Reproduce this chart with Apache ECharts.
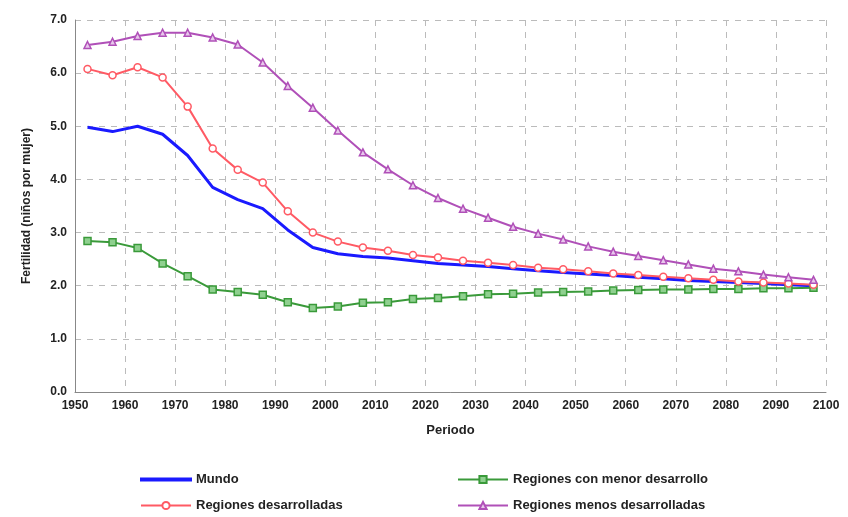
<!DOCTYPE html>
<html><head><meta charset="utf-8">
<script src="https://cdn.jsdelivr.net/npm/echarts@6/dist/echarts.min.js"></script>
<style>html,body{margin:0;background:#fff}#c{width:848px;height:517px}</style>
</head><body><div id="c"></div>
<script>
const years = [];
for (let y = 1952.5; y < 2100; y += 5) years.push(y);
const mundo = [4.98,4.90,5.00,4.85,4.45,3.85,3.62,3.45,3.05,2.72,2.60,2.55,2.52,2.47,2.42,2.39,2.36,2.32,2.28,2.25,2.22,2.19,2.16,2.13,2.10,2.08,2.06,2.04,2.02,2.00];
const desarrolladas = [6.08,5.96,6.11,5.92,5.37,4.58,4.18,3.94,3.40,3.00,2.83,2.72,2.66,2.58,2.53,2.47,2.43,2.39,2.34,2.31,2.27,2.23,2.20,2.17,2.14,2.11,2.08,2.06,2.04,2.02];
const menorDesarrollo = [2.84,2.82,2.71,2.42,2.18,1.93,1.88,1.83,1.69,1.58,1.61,1.68,1.69,1.75,1.77,1.80,1.84,1.85,1.87,1.88,1.89,1.91,1.92,1.93,1.93,1.94,1.94,1.95,1.95,1.96];
const menosDesarrolladas = [6.53,6.59,6.70,6.76,6.76,6.67,6.54,6.20,5.76,5.35,4.92,4.51,4.19,3.89,3.65,3.45,3.28,3.11,2.98,2.87,2.74,2.64,2.56,2.48,2.40,2.32,2.27,2.21,2.16,2.11];

const pair = arr => years.map((y, i) => [y, arr[i]]);
const font = {fontFamily: 'Liberation Sans, Arial', fontWeight: 'bold', color: '#222', fontSize: 12};
const chart = echarts.init(document.getElementById('c'));
const mk = (name, data, color, symbol, width, fill) => ({
  name, type: 'line', data: pair(data), smooth: false,
  symbol, symbolSize: 7, showSymbol: symbol !== 'none',
  lineStyle: {color, width}, itemStyle: {color: fill || '#fff', borderColor: color, borderWidth: 1.5},
  emphasis: {disabled: true}
});
const legendBase = {orient: 'vertical', itemWidth: 50, itemHeight: 9, itemGap: 13,
  textStyle: Object.assign({}, font, {fontSize: 13})};
chart.setOption({
  animation: false,
  grid: {left: 75, right: 22, top: 20, bottom: 125},
  xAxis: {type: 'value', min: 1950, max: 2100, interval: 10,
    name: 'Periodo', nameLocation: 'middle', nameGap: 32, nameTextStyle: Object.assign({}, font, {fontSize: 13}),
    axisLine: {lineStyle: {color: '#888'}}, axisTick: {show: false},
    axisLabel: Object.assign({}, font, {margin: 8, formatter: v => String(v)}),
    splitLine: {lineStyle: {type: [6, 6], color: '#bbb'}}},
  yAxis: {type: 'value', min: 0, max: 7, interval: 1,
    name: 'Fertilidad (niños por mujer)', nameLocation: 'middle', nameGap: 42, nameTextStyle: font,
    axisLine: {show: true, lineStyle: {color: '#888'}}, axisTick: {show: false},
    axisLabel: Object.assign({}, font, {formatter: v => v.toFixed(1)}),
    splitLine: {lineStyle: {type: [6, 6], color: '#bbb'}}},
  legend: [
    Object.assign({left: 135, top: 468, data: [{name: 'Mundo', icon: 'path://M0,4h50v2h-50z'}, 'Regiones desarrolladas']}, legendBase),
    Object.assign({left: 452, top: 468, data: ['Regiones con menor desarrollo', 'Regiones menos desarrolladas']}, legendBase)
  ],
  series: [
    mk('Mundo', mundo, '#1a1aff', 'none', 3),
    mk('Regiones con menor desarrollo', menorDesarrollo, '#3a9a3a', 'rect', 2, '#8fd08f'),
    mk('Regiones desarrolladas', desarrolladas, '#ff5a64', 'circle', 2),
    mk('Regiones menos desarrolladas', menosDesarrolladas, '#b050b8', 'triangle', 2, '#e8c8ec')
  ]
});
</script></body></html>
